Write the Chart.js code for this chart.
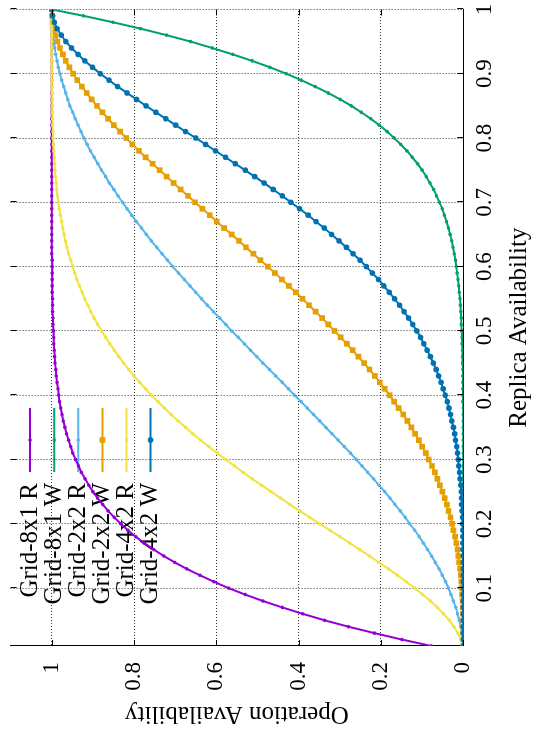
<!DOCTYPE html>
<html>
<head>
<meta charset="utf-8">
<script src="https://cdn.jsdelivr.net/npm/chart.js@4.4.1/dist/chart.umd.min.js"></script>
<style>
html, body { margin: 0; padding: 0; background: #fff; overflow: hidden; }
body { width: 534px; height: 731px; position: relative; }
/* the plot is drawn landscape, then turned a quarter left like the printed page */
#wrap { position: absolute; left: 0; top: 0; width: 731px; height: 534px;
        transform-origin: 0 0; transform: translate(0, 731px) rotate(-90deg); }
</style>
</head>
<body>
<div id="wrap"><canvas id="chart"></canvas></div>
<script>
var replica = [
    0.01,0.02,0.03,0.04,0.05,0.06,0.07,0.08,0.09,0.10,
    0.11,0.12,0.13,0.14,0.15,0.16,0.17,0.18,0.19,0.20,
    0.21,0.22,0.23,0.24,0.25,0.26,0.27,0.28,0.29,0.30,
    0.31,0.32,0.33,0.34,0.35,0.36,0.37,0.38,0.39,0.40,
    0.41,0.42,0.43,0.44,0.45,0.46,0.47,0.48,0.49,0.50,
    0.51,0.52,0.53,0.54,0.55,0.56,0.57,0.58,0.59,0.60,
    0.61,0.62,0.63,0.64,0.65,0.66,0.67,0.68,0.69,0.70,
    0.71,0.72,0.73,0.74,0.75,0.76,0.77,0.78,0.79,0.80,
    0.81,0.82,0.83,0.84,0.85,0.86,0.87,0.88,0.89,0.90,
    0.91,0.92,0.93,0.94,0.95,0.96,0.97,0.98,0.99,1.00
];

var grid8x1R = [
    0.077,0.149,0.216,0.279,0.337,0.390,0.440,0.487,0.530,0.570,
    0.606,0.640,0.672,0.701,0.728,0.752,0.775,0.796,0.815,0.832,
    0.848,0.863,0.876,0.889,0.900,0.910,0.919,0.928,0.935,0.942,
    0.949,0.954,0.959,0.964,0.968,0.972,0.975,0.978,0.981,0.983,
    0.985,0.987,0.989,0.990,0.992,0.993,0.994,0.995,0.995,0.996,
    0.997,0.997,0.998,0.998,0.998,0.999,0.999,0.999,0.999,0.999,
    0.999,1,1,1,1,1,1,1,1,1,
    1,1,1,1,1,1,1,1,1,1,
    1,1,1,1,1,1,1,1,1,1,
    1,1,1,1,1,1,1,1,1,1
];

var grid8x1W = [
    0,0,0,0,0,0,0,0,0,0,
    0,0,0,0,0,0,0,0,0,0,
    0,0,0,0,0,0,0,0,0,0,
    0,0,0,0,0,0,0,0,0.001,0.001,
    0.001,0.001,0.001,0.001,0.002,0.002,0.002,0.003,0.003,0.004,
    0.005,0.005,0.006,0.007,0.008,0.010,0.011,0.013,0.015,0.017,
    0.019,0.022,0.025,0.028,0.032,0.036,0.041,0.046,0.051,0.058,
    0.065,0.072,0.081,0.090,0.100,0.111,0.124,0.137,0.152,0.168,
    0.185,0.204,0.225,0.248,0.272,0.299,0.328,0.360,0.394,0.430,
    0.470,0.513,0.560,0.610,0.663,0.721,0.784,0.851,0.923,1
];

var grid2x2R = [
    0.000,0.002,0.003,0.006,0.010,0.014,0.018,0.024,0.030,0.036,
    0.043,0.051,0.059,0.068,0.077,0.087,0.097,0.107,0.118,0.130,
    0.141,0.153,0.166,0.178,0.191,0.205,0.218,0.232,0.246,0.260,
    0.274,0.289,0.304,0.319,0.334,0.349,0.364,0.379,0.394,0.410,
    0.425,0.440,0.456,0.471,0.487,0.502,0.517,0.532,0.547,0.563,
    0.577,0.592,0.607,0.622,0.636,0.650,0.664,0.678,0.692,0.706,
    0.719,0.732,0.745,0.758,0.770,0.782,0.794,0.806,0.817,0.828,
    0.839,0.849,0.860,0.869,0.879,0.888,0.897,0.906,0.914,0.922,
    0.929,0.936,0.943,0.949,0.956,0.961,0.966,0.971,0.976,0.980,
    0.984,0.987,0.990,0.993,0.995,0.997,0.998,0.999,1.000,1
];

var grid2x2W = [
    0.000,0.000,0.000,0.000,0.000,0.001,0.001,0.002,0.003,0.004,
    0.005,0.006,0.008,0.010,0.012,0.014,0.017,0.020,0.024,0.027,
    0.031,0.036,0.040,0.045,0.051,0.057,0.063,0.069,0.076,0.084,
    0.091,0.100,0.108,0.117,0.126,0.136,0.146,0.157,0.168,0.179,
    0.191,0.203,0.215,0.228,0.241,0.255,0.269,0.283,0.298,0.313,
    0.328,0.343,0.359,0.375,0.391,0.407,0.424,0.441,0.458,0.475,
    0.493,0.510,0.528,0.545,0.563,0.581,0.599,0.616,0.634,0.652,
    0.669,0.687,0.704,0.721,0.738,0.755,0.772,0.788,0.804,0.819,
    0.834,0.849,0.863,0.877,0.890,0.903,0.915,0.927,0.938,0.948,
    0.957,0.966,0.973,0.980,0.986,0.991,0.995,0.998,0.999,1
];

var grid4x2R = [
    0.002,0.006,0.013,0.023,0.034,0.048,0.063,0.080,0.099,0.118,
    0.139,0.160,0.182,0.205,0.228,0.252,0.276,0.300,0.324,0.349,
    0.373,0.397,0.421,0.444,0.467,0.490,0.513,0.535,0.556,0.577,
    0.598,0.618,0.638,0.657,0.675,0.693,0.710,0.726,0.742,0.758,
    0.772,0.786,0.800,0.813,0.825,0.837,0.848,0.859,0.869,0.879,
    0.888,0.897,0.905,0.912,0.920,0.926,0.933,0.939,0.944,0.949,
    0.954,0.959,0.963,0.967,0.970,0.973,0.976,0.979,0.982,0.984,
    0.986,0.988,0.989,0.991,0.992,0.993,0.994,0.995,0.996,0.997,
    0.997,0.998,0.998,0.999,0.999,0.999,0.999,1.000,1.000,1.000,
    1,1,1,1,1,1,1,1,1,1
];

var grid4x2W = [
    0,0,0,0,0,0,0,0,0,0,
    0,0,0,0,0,0.001,0.001,0.001,0.001,0.002,
    0.002,0.003,0.004,0.004,0.005,0.006,0.008,0.009,0.011,0.012,
    0.014,0.016,0.019,0.021,0.024,0.028,0.031,0.035,0.039,0.044,
    0.049,0.054,0.060,0.066,0.073,0.080,0.088,0.096,0.104,0.113,
    0.123,0.133,0.144,0.155,0.167,0.180,0.193,0.206,0.221,0.236,
    0.251,0.268,0.284,0.302,0.320,0.338,0.358,0.377,0.398,0.419,
    0.440,0.462,0.484,0.507,0.530,0.554,0.578,0.602,0.626,0.650,
    0.675,0.699,0.723,0.747,0.771,0.794,0.817,0.840,0.861,0.882,
    0.901,0.920,0.936,0.952,0.966,0.977,0.987,0.994,0.998,1
];

var seriesNames = ['Grid-8x1 R', 'Grid-8x1 W', 'Grid-2x2 R', 'Grid-2x2 W', 'Grid-4x2 R', 'Grid-4x2 W'];
var xTicks = [0.1, 0.2, 0.3, 0.4, 0.5, 0.6, 0.7, 0.8, 0.9, 1];
var yTicks = [0, 0.2, 0.4, 0.6, 0.8, 1];

var serif = '"Liberation Serif", "DejaVu Serif", serif';

function points(values)
{
    return values.map(function(v, i) {
        return {x: replica[i], y: v};
    });
}

function serie(idx, values, color, style, radius)
{
    return {
        label: seriesNames[idx],
        data: points(values),
        borderColor: color,
        backgroundColor: color,
        borderWidth: 2,
        pointStyle: style,
        pointRadius: radius,
        pointBorderWidth: 0,
        pointBackgroundColor: color,
        tension: 0,
        order: 10 - idx
    };
}

function markerAt(ctx, ds, x, y)
{
    ctx.fillStyle = ds.pointBackgroundColor;
    ctx.beginPath();
    if (ds.pointStyle === 'rect') {
        var s = Math.SQRT1_2 * ds.pointRadius;
        ctx.rect(x - s, y - s, 2 * s, 2 * s);
    } else {
        ctx.arc(x, y, ds.pointRadius, 0, Math.PI * 2);
    }
    ctx.fill();
}

// gnuplot style tics: short, pointing inward, mirrored on the far sides
var frameTicks = {
    id: 'frameTicks',
    afterDatasetsDraw: function(chart) {
        var ctx = chart.ctx, a = chart.chartArea,
            xs = chart.scales.x, ys = chart.scales.y, len = 6;
        ctx.save();
        ctx.strokeStyle = '#000';
        ctx.lineWidth = 1;
        ctx.beginPath();
        xs.ticks.forEach(function(t) {
            var px = Math.round(xs.getPixelForValue(t.value)) + 0.5;
            ctx.moveTo(px, a.bottom);
            ctx.lineTo(px, a.bottom - len);
            ctx.moveTo(px, a.top);
            ctx.lineTo(px, a.top + len);
        });
        ys.ticks.forEach(function(t) {
            var py = Math.round(ys.getPixelForValue(t.value)) + 0.5;
            ctx.moveTo(a.left, py);
            ctx.lineTo(a.left + len, py);
            ctx.moveTo(a.right, py);
            ctx.lineTo(a.right - len, py);
        });
        ctx.stroke();
        ctx.restore();
    }
};

// key in the upper left corner: text right aligned, then line sample with its marker
var keyBox = {
    id: 'keyBox',
    beforeDatasetsDraw: function(chart) {
        var ctx = chart.ctx, a = chart.chartArea,
            textRight = a.left + 163, x0 = a.left + 174, x1 = a.left + 238;
        ctx.save();
        ctx.font = '25px ' + serif;
        ctx.textAlign = 'right';
        ctx.textBaseline = 'middle';
        chart.data.datasets.forEach(function(ds, i) {
            var y = a.top + 19.5 + i * 24.1;
            ctx.fillStyle = '#000';
            ctx.fillText(ds.label, textRight, y);
            ctx.strokeStyle = ds.borderColor;
            ctx.lineWidth = 2;
            ctx.beginPath();
            ctx.moveTo(x0, y);
            ctx.lineTo(x1, y);
            ctx.stroke();
            markerAt(ctx, ds, (x0 + x1) / 2, y);
        });
        ctx.restore();
    }
};

var gridLines = { color: 'rgba(0,0,0,0.8)', lineWidth: 1, drawTicks: false };
var axisLine = { display: true, color: '#000', width: 1, dash: [1, 2] };

new Chart(document.getElementById('chart'), {
    type: 'line',
    data: {
        datasets: [
            serie(0, grid8x1R, '#9400d3', 'circle', 1.8),
            serie(1, grid8x1W, '#009e73', 'circle', 1.8),
            serie(2, grid2x2R, '#56b4e9', 'circle', 1.8),
            serie(3, grid2x2W, '#e69f00', 'rect', 4),
            serie(4, grid4x2R, '#f0e442', 'circle', 1.8),
            serie(5, grid4x2W, '#0072b2', 'circle', 2.8)
        ]
    },
    plugins: [keyBox, frameTicks],
    options: {
        responsive: true,
        maintainAspectRatio: false,
        animation: false,
        events: [],
        layout: { padding: { top: 10.6, right: 9.4, left: 0, bottom: 0 } },
        plugins: { legend: { display: false }, tooltip: { enabled: false } },
        scales: {
            x: {
                type: 'linear',
                position: 'bottom',
                min: 0.01,
                max: 1,
                afterBuildTicks: function(scale) {
                    scale.ticks = xTicks.map(function(v) { return {value: v}; });
                },
                afterFit: function(scale) {
                    scale.height = 70.7;
                    scale.paddingLeft = 0;
                    scale.paddingRight = 0;
                },
                grid: gridLines,
                border: axisLine,
                ticks: {
                    color: '#000',
                    padding: 8,
                    maxRotation: 0,
                    autoSkip: false,
                    font: { family: serif, size: 23, lineHeight: 1.2 },
                    callback: function(v) { return String(v); }
                },
                title: {
                    display: true,
                    text: 'Replica Availability',
                    color: '#000',
                    padding: { top: 0, bottom: 2 },
                    font: { family: serif, size: 25, lineHeight: 1 }
                }
            },
            y: {
                type: 'linear',
                position: 'left',
                min: 0,
                max: 1.1,
                afterBuildTicks: function(scale) {
                    scale.ticks = yTicks.map(function(v) { return {value: v}; });
                },
                afterFit: function(scale) {
                    scale.width = 85;
                    scale.paddingTop = 0;
                    scale.paddingBottom = 0;
                },
                grid: gridLines,
                border: axisLine,
                ticks: {
                    color: '#000',
                    padding: 16,
                    autoSkip: false,
                    font: { family: serif, size: 23 },
                    callback: function(v) { return String(v); }
                },
                title: {
                    display: true,
                    text: 'Operation Availability',
                    color: '#000',
                    padding: { top: 5, bottom: 0 },
                    font: { family: serif, size: 25, lineHeight: 1 }
                }
            }
        }
    }
});
</script>
</body>
</html>
